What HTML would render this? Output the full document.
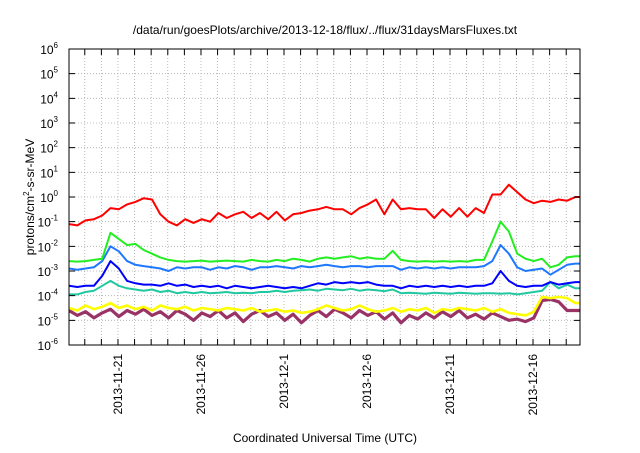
<!DOCTYPE html>
<html><head><meta charset="utf-8"><style>
body{margin:0;background:#fff;width:640px;height:448px;overflow:hidden}
svg{font-family:"Liberation Sans",sans-serif}
</style></head><body>
<svg id="chart" width="640" height="448" xmlns="http://www.w3.org/2000/svg">
<text x="325" y="34" font-size="12" text-anchor="middle">/data/run/goesPlots/archive/2013-12-18/flux/../flux/31daysMarsFluxes.txt</text>
<text transform="translate(34,197) rotate(-90)" font-size="12" text-anchor="middle">protons/cm<tspan font-size="8" dy="-5">2</tspan><tspan dy="5">-s-sr-MeV</tspan></text>
<text x="325" y="442" font-size="12" text-anchor="middle">Coordinated Universal Time (UTC)</text>
<g id="grid"></g><g id="series"></g><g id="axes"></g>
</svg>
<script>
const days=[0,0.5,1,1.5,2,2.5,3,3.5,4,4.5,5,5.5,6,6.5,7,7.5,8,8.5,9,9.5,10,10.5,11,11.5,12,12.5,13,13.5,14,14.5,15,15.5,16,16.5,17,17.5,18,18.5,19,19.5,20,20.5,21,21.5,22,22.5,23,23.5,24,24.5,25,25.5,26,26.5,27,27.5,28,28.5,29,29.5,30,30.5,31];
const redS=[-1.1,-1.15,-0.95,-0.9,-0.75,-0.45,-0.5,-0.3,-0.2,-0.05,-0.1,-0.7,-1.0,-1.15,-0.9,-1.05,-0.9,-1.0,-0.65,-0.85,-0.7,-0.6,-0.85,-0.65,-0.9,-0.6,-0.95,-0.7,-0.65,-0.55,-0.5,-0.4,-0.5,-0.5,-0.7,-0.45,-0.3,-0.1,-0.7,-0.1,-0.5,-0.45,-0.5,-0.5,-0.85,-0.5,-0.8,-0.45,-0.8,-0.45,-0.65,0.1,0.1,0.5,0.2,-0.1,-0.25,-0.15,-0.2,-0.1,-0.15,0.0,0.0];
const greenS=[-2.6,-2.62,-2.6,-2.55,-2.5,-1.45,-1.7,-1.95,-1.9,-2.15,-2.3,-2.45,-2.55,-2.6,-2.62,-2.6,-2.58,-2.62,-2.6,-2.58,-2.6,-2.62,-2.55,-2.6,-2.62,-2.55,-2.6,-2.5,-2.55,-2.62,-2.5,-2.45,-2.5,-2.45,-2.4,-2.5,-2.45,-2.5,-2.5,-2.18,-2.55,-2.6,-2.62,-2.6,-2.62,-2.6,-2.62,-2.6,-2.62,-2.55,-2.55,-1.8,-1.0,-1.4,-2.3,-2.5,-2.6,-2.5,-2.85,-2.75,-2.45,-2.4,-2.4];
const lblueS=[-2.9,-2.95,-2.9,-2.85,-2.6,-2.0,-2.2,-2.6,-2.75,-2.8,-2.85,-2.9,-3.0,-2.85,-2.9,-2.85,-2.85,-2.95,-2.85,-2.9,-2.8,-2.85,-2.95,-2.85,-2.85,-2.8,-2.85,-2.9,-2.8,-2.85,-2.8,-2.75,-2.8,-2.85,-2.8,-2.8,-2.85,-2.8,-2.8,-2.8,-2.95,-2.85,-2.9,-2.85,-2.9,-2.85,-2.9,-2.85,-2.85,-2.85,-2.8,-2.6,-1.95,-2.3,-2.85,-3.0,-2.95,-2.9,-3.15,-2.95,-2.75,-2.7,-2.7];
const dblueS=[-3.6,-3.65,-3.6,-3.6,-3.2,-2.6,-2.9,-3.4,-3.5,-3.55,-3.55,-3.6,-3.5,-3.6,-3.55,-3.65,-3.6,-3.65,-3.6,-3.7,-3.6,-3.65,-3.7,-3.65,-3.6,-3.65,-3.7,-3.65,-3.7,-3.6,-3.5,-3.55,-3.45,-3.5,-3.45,-3.5,-3.45,-3.55,-3.6,-3.6,-3.7,-3.6,-3.65,-3.6,-3.65,-3.6,-3.65,-3.6,-3.65,-3.6,-3.6,-3.5,-3.0,-3.4,-3.6,-3.65,-3.6,-3.6,-3.45,-3.55,-3.5,-3.45,-3.45];
const tealS=[-3.95,-3.95,-3.85,-3.8,-3.6,-3.4,-3.6,-3.7,-3.75,-3.8,-3.75,-3.85,-3.8,-3.9,-3.85,-3.9,-3.85,-3.9,-3.88,-3.85,-3.9,-3.88,-3.9,-3.85,-3.85,-3.8,-3.85,-3.8,-3.78,-3.75,-3.8,-3.72,-3.75,-3.78,-3.72,-3.8,-3.75,-3.78,-3.82,-3.75,-3.9,-3.88,-3.9,-3.92,-3.88,-3.9,-3.92,-3.88,-3.9,-3.92,-3.9,-3.9,-3.92,-3.9,-3.95,-3.9,-3.85,-3.8,-3.45,-3.7,-3.55,-3.7,-3.7];
const yellowS=[-4.5,-4.6,-4.4,-4.55,-4.45,-4.3,-4.5,-4.4,-4.55,-4.45,-4.6,-4.4,-4.5,-4.55,-4.45,-4.6,-4.5,-4.55,-4.6,-4.5,-4.55,-4.6,-4.5,-4.65,-4.6,-4.55,-4.65,-4.6,-4.7,-4.65,-4.55,-4.4,-4.5,-4.6,-4.55,-4.4,-4.55,-4.65,-4.6,-4.5,-4.65,-4.55,-4.6,-4.5,-4.7,-4.55,-4.6,-4.5,-4.55,-4.6,-4.5,-4.65,-4.55,-4.7,-4.75,-4.8,-4.65,-4.05,-4.1,-4.05,-4.1,-4.3,-4.3];
const purpleS=[-4.6,-4.8,-4.65,-4.9,-4.7,-4.55,-4.85,-4.6,-4.75,-4.55,-4.8,-4.65,-4.9,-4.6,-4.75,-5.0,-4.7,-4.85,-4.6,-4.9,-4.7,-5.05,-4.75,-4.6,-4.85,-4.7,-5.0,-4.75,-5.1,-4.8,-4.6,-4.85,-4.55,-4.7,-4.9,-4.6,-4.8,-4.65,-4.95,-4.7,-5.1,-4.8,-4.95,-4.7,-4.9,-4.65,-4.85,-4.6,-4.9,-4.75,-4.95,-4.7,-4.85,-5.0,-4.95,-5.05,-4.9,-4.2,-4.15,-4.25,-4.6,-4.6,-4.6];
const yTicks=[-6,-5,-4,-3,-2,-1,0,1,2,3,4,5,6];
const xLabels=["2013-11-21","2013-11-26","2013-12-1","2013-12-6","2013-12-11","2013-12-16"];
const xLabelDays=[2.95,7.95,12.95,17.95,22.95,27.95];
const X0=69,X1=580,Y0=49,Y1=345,DAYMAX=30.78;
const NS="http://www.w3.org/2000/svg";
const sx=d=>X0+(X1-X0)*d/DAYMAX;
const sy=v=>Y1-(Y1-Y0)*(v+6)/12;
function mk(tag,attrs,parent){const e=document.createElementNS(NS,tag);for(const k in attrs)e.setAttribute(k,attrs[k]);parent.appendChild(e);return e;}
const grid=document.getElementById('grid'),ser=document.getElementById('series'),axes=document.getElementById('axes'),svg=document.getElementById('chart');
const defs=mk('defs',{},svg);const cp=mk('clipPath',{id:'pc'},defs);mk('rect',{x:X0,y:Y0,width:X1-X0,height:Y1-Y0},cp);
for(let d=1;d<DAYMAX;d++){const x=sx(d-0.05);
 const g=mk('line',{x1:x,x2:x,y1:Y0,y2:Y1,stroke:'#aaa','stroke-width':0.8,'stroke-dasharray':'1,2'},grid);
 
 const t1=mk('line',{x1:x,x2:x,y1:Y1,y2:Y1-6,stroke:'#000'},axes);
 
 const t2=mk('line',{x1:x,x2:x,y1:Y0,y2:Y0+6,stroke:'#000'},axes);
 }
yTicks.forEach(v=>{const y=sy(v);
 if(v>-6&&v<6){const g=mk('line',{x1:X0,x2:X1,y1:y,y2:y,stroke:'#aaa','stroke-width':0.8,'stroke-dasharray':'1,2'},grid);
 }
 const t=mk('path',{d:`M${X0},${y}h6M${X1},${y}h-6`,stroke:'#000'},axes);
 
 const tx=mk('text',{x:58,y:y+5,'font-size':12,'text-anchor':'end'},axes);
 
 tx.textContent='10';const sp=mk('tspan',{'font-size':8,dy:-6},tx);sp.textContent=String(v);});
xLabels.forEach((l,i)=>{const x=sx(xLabelDays[i]);
 const tx=mk('text',{transform:`translate(${x+4},354) rotate(-90)`,'font-size':12,'text-anchor':'end'},axes);
 tx.textContent=l;});
const fr=mk('rect',{x:X0,y:Y0,width:X1-X0,height:Y1-Y0,fill:'none',stroke:'#000','stroke-width':1},axes);

const series=[[purpleS,'#993366','purple-series',3.2],[yellowS,'#ffff00','yellow-series',2.6],[tealS,'#20c8a0','teal-series',2],[dblueS,'#0000ff','dark-blue-series',2],[lblueS,'#1e78ff','light-blue-series',2],[greenS,'#22ee22','green-series',2],[redS,'#ff0000','red-series',2]];
series.forEach(([vals,c,n,w])=>{const d=vals.map((v,i)=>(i?'L':'M')+sx(days[i]).toFixed(1)+','+sy(v).toFixed(1)).join('');
 const p=mk('path',{d:d,fill:'none',stroke:c,'stroke-width':w,'clip-path':'url(#pc)','stroke-linejoin':'round'},ser);
 });
</script>
</body></html>
